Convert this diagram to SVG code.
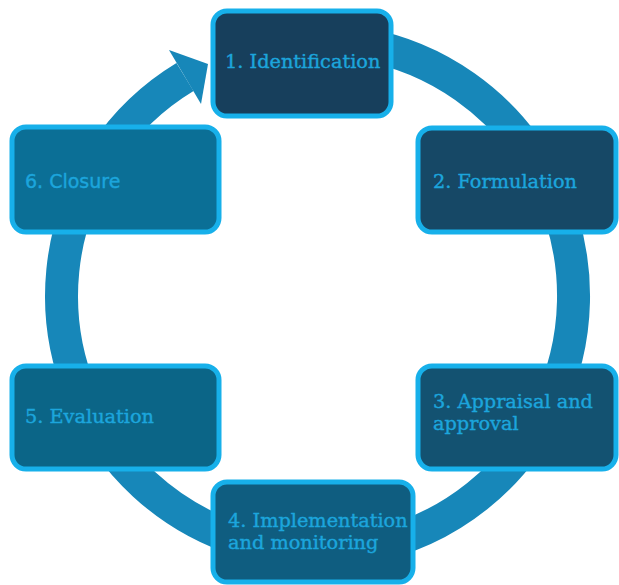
<svg xmlns="http://www.w3.org/2000/svg" width="619" height="585" viewBox="0 0 619 585">
<style>
.box{stroke:#17b0ea;stroke-width:5}
.t{font-family:"DejaVu Serif","Liberation Serif",serif;font-size:19.3px;fill:#1ca5dc;stroke:#1ca5dc;stroke-width:0.4}
.s{font-family:"DejaVu Sans","Liberation Sans",sans-serif;font-size:19px;fill:#1ca5dc;stroke:#1ca5dc;stroke-width:0.4}
</style>
<rect width="619" height="585" fill="#ffffff"/>
<g id="connectors">
<path d="M362.5,44 A256,256 0 1 1 185,77" fill="none" stroke="#1787b9" stroke-width="33"/>
<polygon points="169,50 208,64 201,104" fill="#1787b9"/>
</g>
<g id="n1"><rect class="box" x="213" y="11" width="178" height="105" rx="14" fill="#173f5c"/><text class="t" x="225" y="68">1. Identification</text></g>
<g id="n2"><rect class="box" x="418" y="128" width="198" height="104" rx="14" fill="#164866"/><text class="t" x="433" y="188">2. Formulation</text></g>
<g id="n3"><rect class="box" x="418" y="366" width="198" height="103" rx="14" fill="#135271"/><text class="t" x="433" y="408">3. Appraisal and</text><text class="t" x="433" y="430">approval</text></g>
<g id="n4"><rect class="box" x="213" y="482" width="200" height="100" rx="14" fill="#0f5d80"/><text class="t" x="228" y="527">4. Implementation</text><text class="t" x="228" y="549">and monitoring</text></g>
<g id="n5"><rect class="box" x="12" y="366" width="207" height="103" rx="14" fill="#0b6587"/><text class="t" x="25" y="423">5. Evaluation</text></g>
<g id="n6"><rect class="box" x="12" y="127" width="207" height="105" rx="14" fill="#0b6f96"/><text class="s" x="25" y="188">6. Closure</text></g>
</svg>
